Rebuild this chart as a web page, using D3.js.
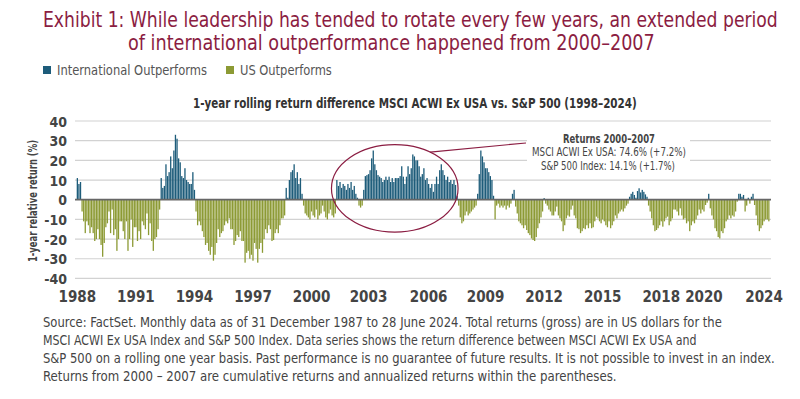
<!DOCTYPE html>
<html><head><meta charset="utf-8">
<script src="https://cdn.jsdelivr.net/npm/d3@7"></script>
<style>body{margin:0;background:#fff}svg{display:block}</style>
</head><body><svg id="c" width="800" height="399"></svg>
<script>
// ---- data (monthly, Jan 1988 .. Jun 2024) ----
const firstMonth = "1988-01";
const lastMonth = "2024-06";
const relReturn = [
 11, 8, 9,
 -6,-11,-17,-11,-13,-17,-14,-17,-21,-20,-15,-20,-23,-29,-22,-14,-12,-6,-17,-5,-18,-15,-26,-20,-11,-11,-16,-20,-11,-26,-20,-10,-24,-14,-14,-21,-16,-20,-11,-13,-15,-7,-18,-12,-21,-26,-20,-19,-15,-5,
 11,6,7,18,12,14,22,16,25,33,31,21,19,12,11,16,10,9,8,8,14,5,
 -6,-13,-11,-13,-16,-19,-23,-22,-26,-28,-24,-31,-28,-22,-15,-19,-17,-16,-13,-11,-12,-9.5,-15,-15,-23,-21,-18,-19,-16,-21,-21,-32,-27,-26,-30,-28,-31,-22,-25,-32,-25,-22,-27,-20,-15,-17,-13,-15,-21,
 -20.5,-17,-15,-17,-13,-9.5,-9.5,-8,
 6,1,10,14,15,18,11,14,8,11,3,
 -3,-7,-8,-9,-10,-6,-8,-9,-5,-10,-8,-7,-3,-6,-9,-10,-7,-5,-8,-9,-7,
 10,7,9,6,8,7,5,8,6,9,5,7,3,1,
 -3,-4,-3,
 5,12,12.5,13,15,21,25,18,15,12.5,11.7,11,9,10,11.7,10,11.7,9,11,9,11,11,11,12,17,11.7,8,11.7,17,13,16,23,22,20,20,17,11.7,13,16,10,11,8,6,8,4,8,11.7,8,15,18,15,12.5,10,11.7,9,10,8,10,7.5,2,
 -3,-9,-12,-11,-8,-6,-8,-7,-6,-5,-4,-3,
 3,13,25,22,19,16,16,14,12,10,2,
 -10,-3,-2,-4,-3,-4,-3,-5,-3,-4,-2,
 3,5,
 -3.5,-7,-11,-12,-13,-14.5,-13,-15.4,-17,-18,-19.7,-20.5,-21,-19,-14.5,-12,-9,-6,
 0.8,
 -2,-3,-5,-6,-8,-8,-6,-3.5,-8,-9.5,-11,-16,-13,-9.5,-8,-8.6,-5,-3,
 -8,-9.5,-14.5,-15,-17,-16,-14.5,-15,-13,-14.5,-12,-14.5,-14,-11,-8.6,-9.5,-11,-12,-10,-11,-13,-14,-11,-14.5,-13,-11,-8,-9.5,-7,-6,-5,-6,-4.4,-3,-2,
 1.5,3,4,2.4,1,4.4,5.8,3.7,5,4,2.7,1.5,
 -3,-6,-9.5,-13,-16,-15.4,-14.5,-13,-11,-13.7,-11,-9.5,-8.6,-13,-11,-9.5,-5,
 -5,-6,-8,-4.4,-8,-10,-9.5,-12,-11,-16,-13,-11,-12,-10,-8,-5,-7,-5,-6,-2.7,-1.5,
 3,
 -4.4,-8,-10,-14.5,-16,-19,-19.7,-16,-17,-14.5,-11,-10,-8,-9.5,-8,-8.6,-6,-1,
 3,3,1.5,2.4,
 -6,-3,1,-2,1.5,3,-2.7,
 -8,-13,-16,-14.5,-13,-11,-10,-10,-11
];
const tickMonths = ["1988-01","1991-02","1994-03","1997-04","2000-05","2003-05","2006-07","2009-07","2012-08","2015-09","2018-10","2021-01","2024-03"];
const tickLabels = ["1988","1991","1994","1997","2000","2003","2006","2009","2012","2015","2018","2020","2024"];
const yTicks = [-40,-30,-20,-10,0,10,20,30,40];
const seriesNames = ["International Outperforms","US Outperforms"];
const highlightPeriod = ["2001-06","2008-02"];
const highlightRange = [28, -16.5];

// ---- layout / style ----
const C_BLUE = "#1d5c7a", C_GREEN = "#8c9a34", C_RED = "#8b1d42", C_TXT = "#444";
const NARROW = "'Liberation Sans Narrow','DejaVu Sans Condensed','Roboto Condensed','Arial Narrow',sans-serif";

const fmt = d3.timeFormat("%Y-%m"), parse = d3.timeParse("%Y-%m");
const months = d3.timeMonth.range(parse(firstMonth), d3.timeMonth.offset(parse(lastMonth),1)).map(fmt);
const data = months.map((m,i)=>({m, v: relReturn[i]}));

const svg = d3.select("#c");
const x = d3.scaleBand().domain(months).range([76.7, 769.5]).paddingInner(0.18);
const y = d3.scaleLinear().domain([-40,40]).range([278.4,121]);

// text helper: fits natural width to target (horizontal squeeze if too wide, letter-spacing if narrow)
function txt(s, X, Y, opt, parent){
  const gg = (parent||svg).append("g").attr("transform", opt.rotate ? `translate(${X},${Y}) rotate(${opt.rotate})` : `translate(${X},${Y})`);
  const inner = gg.append("g");
  const t = inner.append("text").attr("x",0).attr("y",0).text(s)
    .attr("font-family", opt.family||NARROW).attr("font-size",opt.size)
    .attr("fill",opt.fill||C_TXT).attr("font-weight",opt.weight||"normal")
    .attr("text-anchor",opt.anchor||"start");
  if(opt.len){
    const w = t.node().getComputedTextLength();
    if(w > opt.len){
      inner.attr("transform", `scale(${(opt.len/w).toFixed(4)},1)`);
    } else if (w < opt.len) {
      t.attr("letter-spacing", ((opt.len - w)/(s.length-1)).toFixed(3));
    }
  }
  return t;
}
txt("Exhibit 1: While leadership has tended to rotate every few years, an extended period", 43, 27, {size:22, fill:C_RED, len:735});
txt("of international outperformance happened from 2000\u20132007", 128, 50, {size:22, fill:C_RED, len:527});

// legend
const lg = [{n:seriesNames[0], c:C_BLUE, x:43, len:150},{n:seriesNames[1], c:C_GREEN, x:226, len:92}];
lg.forEach(d=>{
  svg.append("rect").attr("x",d.x).attr("y",66).attr("width",8).attr("height",8).attr("fill",d.c);
  txt(d.n, d.x+14, 75, {size:14, fill:"#555", len:d.len});
});

txt("1-year rolling return difference MSCI ACWI Ex USA vs. S&P 500 (1998\u20132024)", 193, 108, {size:13.5, weight:"bold", fill:"#333", len:444});

// grid
svg.append("g").selectAll("line").data(yTicks.filter(d=>d!==0)).join("line")
  .attr("x1",75).attr("x2",771).attr("y1",d=>y(d)).attr("y2",d=>y(d))
  .attr("stroke","#d2d2d2").attr("stroke-width",1.2);

// y axis
const ya = svg.append("g").attr("transform","translate(67,0)")
  .call(d3.axisLeft(y).tickValues(yTicks).tickFormat(d=>String(d)).tickSize(0).tickPadding(0));
ya.select(".domain").remove();
ya.selectAll("text").attr("font-family",NARROW).attr("font-size",14).attr("font-weight","bold").attr("fill","#444").attr("dy","0.36em");

txt("1-year relative return (%)", 37, 201, {size:13, weight:"bold", fill:"#444", anchor:"middle", len:122, rotate:-90});

// annotation box (covers gridlines)
svg.append("rect").attr("x",527).attr("y",128).attr("width",163).attr("height",44).attr("fill","#fff");

// bars
svg.append("g").selectAll("rect").data(data).join("rect")
  .attr("x",d=>x(d.m)).attr("width",x.bandwidth())
  .attr("y",d=>y(Math.max(0,d.v))).attr("height",d=>Math.abs(y(d.v)-y(0)))
  .attr("fill",d=>d.v>=0?C_BLUE:C_GREEN);

// zero line
svg.append("line").attr("x1",75).attr("x2",771).attr("y1",y(0)).attr("y2",y(0))
  .attr("stroke","#666").attr("stroke-width",1.8);

// x axis
const xa = svg.append("g").attr("transform","translate(0,291)")
  .call(d3.axisBottom(x).tickValues(tickMonths).tickFormat((d,i)=>tickLabels[i]).tickSize(0).tickPadding(0));
xa.select(".domain").remove();
xa.selectAll("text").attr("font-family",NARROW).attr("font-size",15).attr("font-weight","bold").attr("fill","#444").attr("dy","0.71em");

// ellipse annotation
const ex0 = x(highlightPeriod[0]), ex1 = x(highlightPeriod[1]);
const ey0 = y(highlightRange[0]), ey1 = y(highlightRange[1]);
const ecx = (ex0+ex1)/2, ecy = (ey0+ey1)/2, erx = (ex1-ex0)/2, ery = (ey1-ey0)/2;
svg.append("ellipse").attr("cx",ecx).attr("cy",ecy).attr("rx",erx).attr("ry",ery)
  .attr("fill","none").attr("stroke",C_RED).attr("stroke-width",1.2);
const ang = -56*Math.PI/180;
svg.append("line").attr("x1",ecx+erx*Math.cos(ang)).attr("y1",ecy+ery*Math.sin(ang))
  .attr("x2",526).attr("y2",143).attr("stroke",C_RED).attr("stroke-width",1.2);

txt("Returns 2000\u20132007", 609, 142.5, {size:12, weight:"bold", fill:"#444", anchor:"middle", len:92});
txt("MSCI ACWI Ex USA: 74.6% (+7.2%)", 609, 156, {size:12, fill:"#444", anchor:"middle", len:154});
txt("S&P 500 Index: 14.1% (+1.7%)", 608, 169.5, {size:12, fill:"#444", anchor:"middle", len:134});

// footnote
const notes = [
 ["Source: FactSet. Monthly data as of 31 December 1987 to 28 June 2024. Total returns (gross) are in US dollars for the", 679],
 ["MSCI ACWI Ex USA Index and S&P 500 Index. Data series shows the return difference between MSCI ACWI Ex USA and", 654],
 ["S&P 500 on a rolling one year basis. Past performance is no guarantee of future results. It is not possible to invest in an index.", 732],
 ["Returns from 2000 \u2013 2007 are cumulative returns and annualized returns within the parentheses.", 574]
];
notes.forEach((n,i)=>txt(n[0], 43, 327+i*18, {size:14, fill:"#444", len:n[1]}));
</script></body></html>
